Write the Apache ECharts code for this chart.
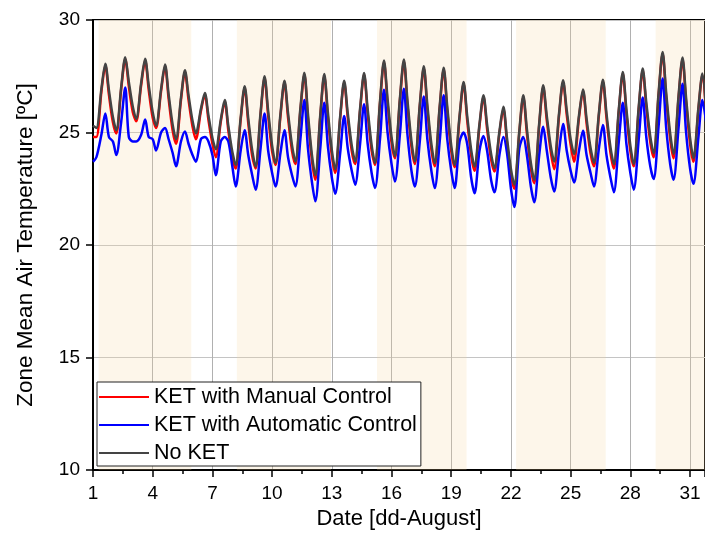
<!DOCTYPE html>
<html>
<head>
<meta charset="utf-8">
<script src="https://cdn.jsdelivr.net/npm/echarts@6/dist/echarts.min.js"></script>
<style>
  html, body { margin: 0; padding: 0; background: #fff; }
  #main { width: 705px; height: 541px; }
</style>
</head>
<body>
<div id="main"></div>
<script>
// days of August and the sampled fraction of each day (midnight, early morning low, late morning, afternoon high, evening)
var days = [1,2,3,4,5,6,7,8,9,10,11,12,13,14,15,16,17,18,19,20,21,22,23,24,25,26,27,28,29,30,31];
var dayFrac = [0, 0.17, 0.42, 0.62, 0.8];

// weekday (office hours) bands, in days
var bandStart = [1.28, 8.23, 15.27, 22.26, 29.27];
var bandEnd = [5.94, 12.96, 19.77, 26.76, 31.75];

// zone mean air temperature [ºC], 5 samples per day
var manualCtrl = [
  24.8, 24.8, 26.8, 27.98, 26.68,
  25.45, 24.96, 26.95, 28.27, 27.05,
  25.9, 25.5, 27.1, 28.2, 26.89,
  25.65, 25.2, 26.83, 27.94, 26.49,
  25.1, 24.5, 26.44, 27.69, 26.45,
  25.27, 24.7, 25.94, 26.68, 25.56,
  24.5, 23.9, 25.47, 26.36, 25.09,
  23.89, 23.4, 25.56, 26.98, 25.43,
  23.95, 23.4, 25.8, 27.42, 25.76,
  24.16, 23.56, 25.74, 27.22, 25.66,
  24.18, 23.6, 25.97, 27.57, 25.63,
  23.76, 22.9, 25.7, 27.52, 25.71,
  23.97, 23.2, 25.63, 27.22, 25.66,
  24.18, 23.6, 25.97, 27.57, 25.85,
  24.19, 23.56, 26.28, 28.12, 26.3,
  24.55, 23.86, 26.42, 28.16, 26.23,
  24.37, 23.6, 26.15, 27.86, 26.02,
  24.25, 23.5, 26.08, 27.8, 25.95,
  24.17, 23.46, 25.67, 27.17, 25.55,
  23.99, 23.3, 25.29, 26.58, 25.16,
  23.81, 23.27, 24.95, 26.06, 24.56,
  23.12, 22.5, 24.97, 26.58, 24.96,
  23.4, 22.75, 25.32, 27.02, 25.54,
  24.14, 23.37, 25.78, 27.24, 25.81,
  24.45, 23.7, 25.67, 26.83, 25.41,
  24.06, 23.5, 25.77, 27.27, 25.65,
  24.1, 23.4, 25.95, 27.61, 25.85,
  24.17, 23.5, 26.04, 27.76, 26.14,
  24.58, 23.9, 26.68, 28.5, 26.57,
  24.71, 23.86, 26.52, 28.25, 26.34,
  24.5, 23.7, 26.02, 27.54, 25.9
];
var autoCtrl = [
  23.7, 23.9, 24.9, 25.85, 24.8,
  24.6, 24.0, 25.5, 27.0, 24.8,
  24.6, 24.6, 24.9, 25.58, 24.8,
  24.7, 24.2, 25.0, 25.2, 24.7,
  24.1, 23.5, 24.6, 25.05, 24.5,
  24.0, 23.7, 24.7, 24.8, 24.6,
  24.0, 23.1, 24.6, 24.8, 24.6,
  23.5, 22.6, 24.2, 25.1, 24.0,
  23.1, 22.46, 24.3, 25.85, 24.2,
  23.2, 22.6, 24.1, 25.1, 23.9,
  23.1, 22.6, 24.7, 26.44, 24.3,
  22.8, 21.94, 24.3, 26.32, 24.4,
  23.0, 22.28, 24.1, 25.73, 24.3,
  23.3, 22.68, 24.5, 26.26, 24.5,
  23.2, 22.53, 24.7, 26.9, 25.0,
  23.6, 22.82, 24.9, 26.95, 24.9,
  23.3, 22.6, 24.6, 26.6, 24.7,
  23.3, 22.53, 24.6, 26.66, 24.7,
  23.3, 22.53, 24.6, 25.0, 24.5,
  23.0, 22.3, 24.2, 24.84, 24.2,
  22.9, 22.34, 24.0, 24.8, 24.1,
  22.5, 21.69, 24.3, 24.8, 24.0,
  22.6, 21.9, 24.0, 25.26, 24.2,
  23.0, 22.38, 24.2, 25.38, 24.2,
  23.3, 22.78, 24.2, 25.08, 24.0,
  23.2, 22.6, 24.3, 25.33, 24.0,
  23.0, 22.34, 24.6, 26.32, 24.5,
  23.2, 22.46, 24.7, 26.56, 24.8,
  23.5, 22.93, 25.3, 27.4, 25.2,
  23.6, 22.9, 25.2, 27.17, 25.0,
  23.4, 22.72, 24.8, 26.44, 25.5
];
var noKet = [
  25.3, 25.2, 26.92, 28.06, 26.88,
  25.69, 25.1, 27.05, 28.35, 27.25,
  26.15, 25.6, 27.21, 28.28, 27.09,
  25.9, 25.3, 26.93, 28.02, 26.69,
  25.36, 24.7, 26.54, 27.77, 26.65,
  25.52, 24.96, 26.04, 26.76, 25.76,
  24.76, 24.26, 25.57, 26.44, 25.29,
  24.14, 23.56, 25.66, 27.06, 25.63,
  24.2, 23.49, 25.9, 27.5, 25.96,
  24.41, 23.64, 25.84, 27.3, 25.86,
  24.43, 23.71, 26.07, 27.65, 25.83,
  24.01, 23.1, 25.8, 27.6, 25.91,
  24.22, 23.37, 25.73, 27.3, 25.86,
  24.43, 23.71, 26.07, 27.65, 26.05,
  24.44, 23.64, 26.38, 28.2, 26.5,
  24.8, 23.95, 26.52, 28.24, 26.43,
  24.62, 23.71, 26.25, 27.94, 26.22,
  24.5, 23.64, 26.18, 27.88, 26.15,
  24.42, 23.56, 25.77, 27.25, 25.75,
  24.24, 23.49, 25.39, 26.66, 25.36,
  24.06, 23.41, 25.05, 26.14, 24.76,
  23.37, 22.68, 25.07, 26.66, 25.16,
  23.65, 22.9, 25.42, 27.1, 25.74,
  24.39, 23.71, 25.88, 27.32, 26.01,
  24.7, 24.05, 25.77, 26.91, 25.61,
  24.31, 23.66, 25.87, 27.35, 25.85,
  24.35, 23.6, 26.05, 27.69, 26.05,
  24.42, 23.6, 26.14, 27.84, 26.34,
  24.83, 24.08, 26.78, 28.58, 26.77,
  24.96, 24.05, 26.62, 28.33, 26.54,
  24.75, 23.86, 26.12, 27.62, 26.0
];

var xTicks = [1, 4, 7, 10, 13, 16, 19, 22, 25, 28, 31];

var chart = echarts.init(document.getElementById('main'));

// pair each sample with its time
var toPairs = function(vals){
  var out = [];
  for (var i = 0; i < days.length; i++) {
    for (var j = 0; j < dayFrac.length; j++) {
      out.push([days[i] + dayFrac[j], vals[i * dayFrac.length + j]]);
    }
  }
  return out;
};

var bands = [];
for (var b = 0; b < bandStart.length; b++) {
  bands.push([{ xAxis: bandStart[b] }, { xAxis: bandEnd[b] }]);
}

var font = 'Liberation Sans, Arial, sans-serif';

chart.setOption({
  animation: false,
  backgroundColor: '#fff',
  textStyle: { fontFamily: font, color: '#000' },
  grid: {
    left: 93, right: 0, top: 20, bottom: 71,
    show: true, borderColor: '#000', borderWidth: 2
  },
  legend: {
    data: ['KET with Manual Control', 'KET with Automatic Control', 'No KET'],
    orient: 'vertical',
    left: 97, top: 382,
    padding: [4, 4, 2, 2],
    itemGap: 6,
    icon: 'rect',
    itemWidth: 50, itemHeight: 2,
    backgroundColor: '#fff',
    borderColor: '#222', borderWidth: 1,
    textStyle: { fontSize: 21.5, fontFamily: font, color: '#000', lineHeight: 21 }
  },
  xAxis: {
    type: 'value',
    min: 1, max: 31.75, interval: 3,
    name: 'Date [dd-August]',
    nameLocation: 'middle', nameGap: 36,
    nameTextStyle: { fontSize: 22, fontFamily: font, color: '#000' },
    axisLine: { onZero: false, lineStyle: { color: '#000', width: 2 } },
    axisTick: { length: 7, lineStyle: { color: '#000', width: 1.5 } },
    minorTick: { show: true, splitNumber: 2, length: 4, lineStyle: { color: '#000', width: 1.5 } },
    axisLabel: {
      fontSize: 19, color: '#000', margin: 14, showMaxLabel: false,
      formatter: function(v){ return xTicks.indexOf(v) >= 0 ? String(v) : ''; }
    },
    splitLine: { show: true, lineStyle: { color: '#b0b0b0', width: 1 } }
  },
  yAxis: {
    type: 'value',
    min: 10, max: 30, interval: 5,
    name: 'Zone Mean Air Temperature [ºC]',
    nameLocation: 'middle', nameGap: 56,
    nameTextStyle: { fontSize: 22.5, fontFamily: font, color: '#000' },
    axisLine: { show: true, lineStyle: { color: '#000', width: 2 } },
    axisTick: { show: true, length: 7, lineStyle: { color: '#000', width: 1.5 } },
    axisLabel: { fontSize: 19, color: '#000', margin: 13 },
    splitLine: { show: true, lineStyle: { color: '#c4c4c4', width: 1 } }
  },
  series: [
    {
      name: 'weekdays', type: 'line', data: [], silent: true,
      markArea: {
        silent: true,
        itemStyle: { color: 'rgba(246, 214, 160, 0.22)' },
        data: bands
      }
    },
    {
      name: 'KET with Manual Control', type: 'line',
      data: toPairs(manualCtrl),
      showSymbol: false, symbol: 'none', smooth: 0.3,
      lineStyle: { color: '#ff0000', width: 2.5 }, itemStyle: { color: '#ff0000' }
    },
    {
      name: 'KET with Automatic Control', type: 'line',
      data: toPairs(autoCtrl),
      showSymbol: false, symbol: 'none', smooth: 0.3,
      lineStyle: { color: '#0000ff', width: 2.5 }, itemStyle: { color: '#0000ff' }
    },
    {
      name: 'No KET', type: 'line',
      data: toPairs(noKet),
      showSymbol: false, symbol: 'none', smooth: 0.3,
      lineStyle: { color: '#444444', width: 2.5 }, itemStyle: { color: '#444444' }
    }
  ]
});
</script>
</body>
</html>
